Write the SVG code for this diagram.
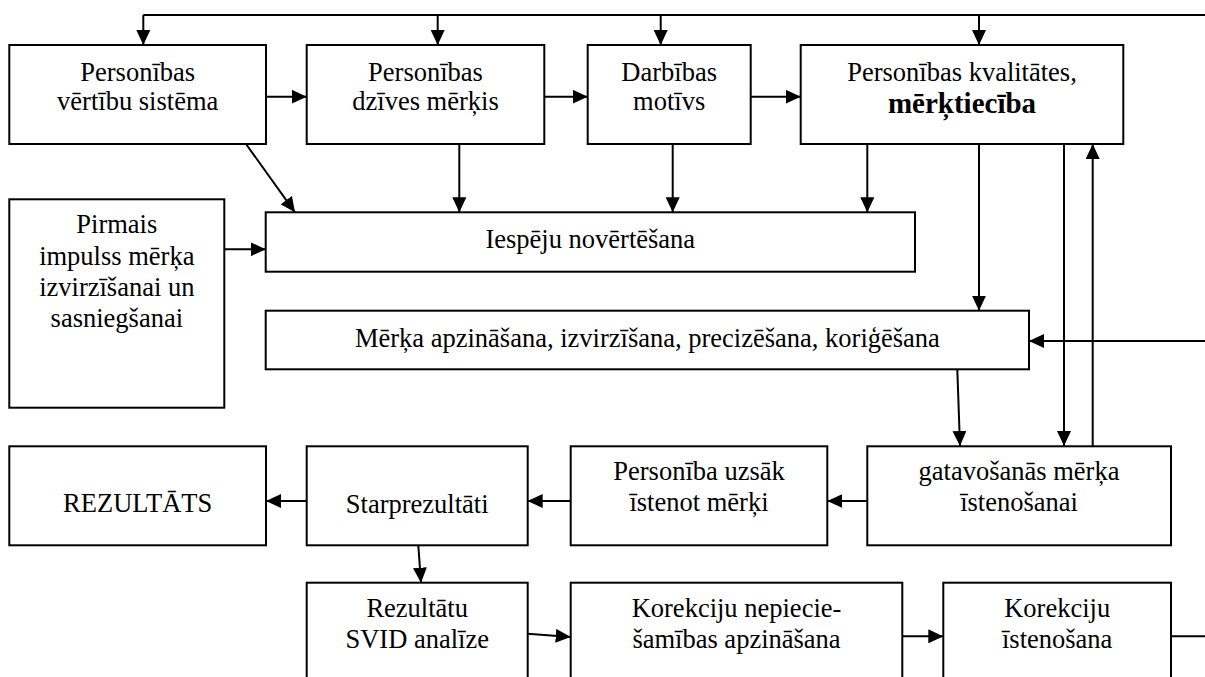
<svg xmlns="http://www.w3.org/2000/svg" width="1205" height="677" viewBox="0 0 1205 677">
<style>
.box{fill:#fff;stroke:#000;stroke-width:2}
.t{font-family:"Liberation Serif","Times New Roman",serif;font-size:26.5px;fill:#000;text-anchor:middle}
.b{font-weight:bold;font-size:29px}
.c{stroke:#000;stroke-width:2;fill:none}
.a{marker-end:url(#ah)}
</style>
<defs>
<marker id="ah" markerUnits="userSpaceOnUse" markerWidth="15" markerHeight="14" refX="15" refY="7" orient="auto">
<path d="M0,0 L15,7 L0,14 Z" fill="#000"/>
</marker>
</defs>
<rect width="1205" height="677" fill="#fff"/>
<g id="connectors">
<line class="c" x1="143.3" y1="15" x2="1205" y2="15"/>
<line class="c a" x1="143.3" y1="15" x2="143.3" y2="45"/>
<line class="c a" x1="437.7" y1="15" x2="437.7" y2="45"/>
<line class="c a" x1="660.7" y1="15" x2="660.7" y2="45"/>
<line class="c a" x1="979" y1="15" x2="979" y2="45"/>
<line class="c a" x1="266" y1="96.7" x2="306.7" y2="96.7"/>
<line class="c a" x1="544.3" y1="96.7" x2="587.7" y2="96.7"/>
<line class="c a" x1="750.7" y1="96.7" x2="800.7" y2="96.7"/>
<line class="c a" x1="246" y1="144" x2="295" y2="212.3"/>
<line class="c a" x1="459.3" y1="144" x2="459.3" y2="212.3"/>
<line class="c a" x1="672.7" y1="144" x2="672.7" y2="212.3"/>
<line class="c a" x1="867.3" y1="144" x2="867.3" y2="212.3"/>
<line class="c a" x1="224.3" y1="249.3" x2="265.7" y2="249.3"/>
<line class="c a" x1="979" y1="144" x2="979" y2="310.7"/>
<line class="c a" x1="1205" y1="341" x2="1029" y2="341"/>
<line class="c a" x1="957.3" y1="369.3" x2="960" y2="446"/>
<line class="c a" x1="1064" y1="144" x2="1064" y2="446"/>
<line class="c a" x1="1092.7" y1="446" x2="1092.7" y2="144"/>
<line class="c a" x1="867.3" y1="501" x2="827.3" y2="501"/>
<line class="c a" x1="570.7" y1="501" x2="527.7" y2="501"/>
<line class="c a" x1="306.7" y1="501" x2="266" y2="501"/>
<line class="c a" x1="418.3" y1="545.3" x2="421" y2="582.7"/>
<line class="c a" x1="527.7" y1="633.7" x2="570.7" y2="637"/>
<line class="c a" x1="902.3" y1="636.3" x2="943.3" y2="636.3"/>
<line class="c" x1="1171" y1="636.3" x2="1205" y2="636.3"/>
</g>
<g id="n1"><rect class="box" x="9.3" y="45" width="256.7" height="99"/>
<text class="t" x="137.7" y="80.7">Personības</text><text class="t" x="137.7" y="110">vērtību sistēma</text></g>
<g id="n2"><rect class="box" x="306.7" y="45" width="237.6" height="99"/>
<text class="t" x="425.5" y="80.7">Personības</text><text class="t" x="425.5" y="110">dzīves mērķis</text></g>
<g id="n3"><rect class="box" x="587.7" y="45" width="163" height="99"/>
<text class="t" x="669.2" y="80.7">Darbības</text><text class="t" x="669.2" y="110">motīvs</text></g>
<g id="n4"><rect class="box" x="800.7" y="45" width="322.6" height="99"/>
<text class="t" x="962" y="80.7">Personības kvalitātes,</text><text class="t b" x="962" y="113">mērķtiecība</text></g>
<g id="n5"><rect class="box" x="9.3" y="199.3" width="215" height="208.4"/>
<text class="t" x="116.8" y="233.3">Pirmais</text><text class="t" x="116.8" y="265">impulss mērķa</text><text class="t" x="116.8" y="296">izvirzīšanai un</text><text class="t" x="116.8" y="326.5">sasniegšanai</text></g>
<g id="n6"><rect class="box" x="265.7" y="212.3" width="649.3" height="59.4"/>
<text class="t" x="590.3" y="248.3">Iespēju novērtēšana</text></g>
<g id="n7"><rect class="box" x="265.7" y="310.7" width="763.3" height="58.6"/>
<text class="t" x="647.4" y="346.5">Mērķa apzināšana, izvirzīšana, precizēšana, koriģēšana</text></g>
<g id="n8"><rect class="box" x="9.3" y="446.3" width="256.7" height="99"/>
<text class="t" x="137.7" y="512">REZULTĀTS</text></g>
<g id="n9"><rect class="box" x="306.7" y="446.3" width="221" height="99"/>
<text class="t" x="417.2" y="512.7">Starprezultāti</text></g>
<g id="n10"><rect class="box" x="570.7" y="446.3" width="256.6" height="99"/>
<text class="t" x="699" y="480.3">Personība uzsāk</text><text class="t" x="699" y="511">īstenot mērķi</text></g>
<g id="n11"><rect class="box" x="867.3" y="446.3" width="303.7" height="99"/>
<text class="t" x="1019" y="480.3">gatavošanās mērķa</text><text class="t" x="1019" y="511">īstenošanai</text></g>
<g id="n12"><rect class="box" x="306.7" y="582.7" width="221" height="120"/>
<text class="t" x="417.2" y="617">Rezultātu</text><text class="t" x="417.2" y="647.7">SVID analīze</text></g>
<g id="n13"><rect class="box" x="570.7" y="582.7" width="331.6" height="120"/>
<text class="t" x="736.5" y="617">Korekciju nepiecie-</text><text class="t" x="736.5" y="647.7">šamības apzināšana</text></g>
<g id="n14"><rect class="box" x="943.3" y="582.7" width="227.7" height="120"/>
<text class="t" x="1057.2" y="617">Korekciju</text><text class="t" x="1057.2" y="647.7">īstenošana</text></g>
</svg>
